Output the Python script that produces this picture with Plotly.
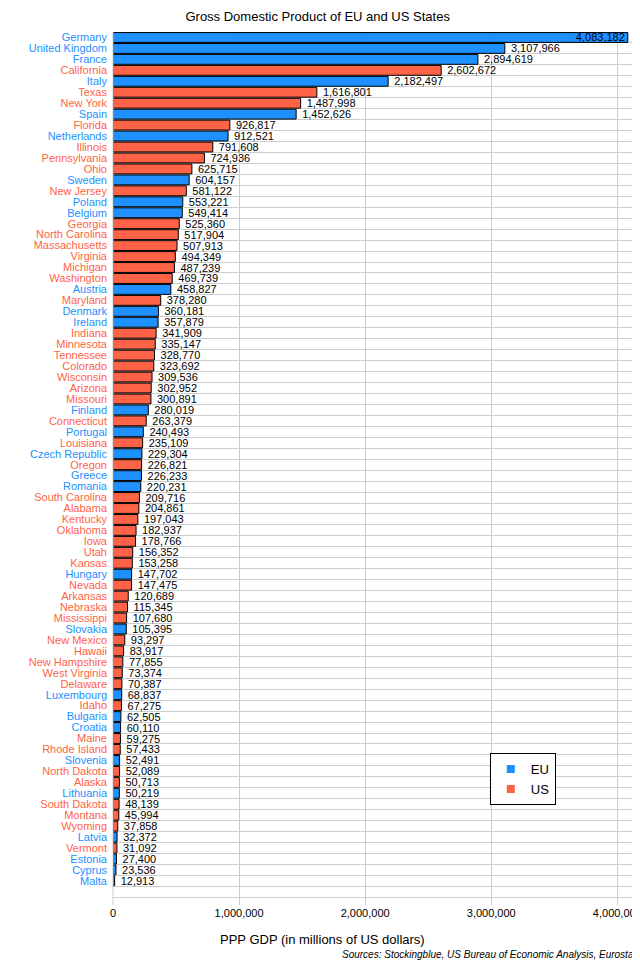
import plotly.graph_objects as go

# rows from top to bottom
names = [
    "Germany", "United Kingdom", "France", "California", "Italy", "Texas", "New York", "Spain",
    "Florida", "Netherlands", "Illinois", "Pennsylvania", "Ohio", "Sweden", "New Jersey", "Poland",
    "Belgium", "Georgia", "North Carolina", "Massachusetts", "Virginia", "Michigan", "Washington",
    "Austria", "Maryland", "Denmark", "Ireland", "Indiana", "Minnesota", "Tennessee", "Colorado",
    "Wisconsin", "Arizona", "Missouri", "Finland", "Connecticut", "Portugal", "Louisiana",
    "Czech Republic", "Oregon", "Greece", "Romania", "South Carolina", "Alabama", "Kentucky",
    "Oklahoma", "Iowa", "Utah", "Kansas", "Hungary", "Nevada", "Arkansas", "Nebraska",
    "Mississippi", "Slovakia", "New Mexico", "Hawaii", "New Hampshire", "West Virginia",
    "Delaware", "Luxembourg", "Idaho", "Bulgaria", "Croatia", "Maine", "Rhode Island",
    "Slovenia", "North Dakota", "Alaska", "Lithuania", "South Dakota", "Montana", "Wyoming",
    "Latvia", "Vermont", "Estonia", "Cyprus", "Malta",
]
gdp = [
    4083182, 3107966, 2894619, 2602672, 2182497, 1616801, 1487998, 1452626,
    926817, 912521, 791608, 724936, 625715, 604157, 581122, 553221,
    549414, 525360, 517904, 507913, 494349, 487239, 469739,
    458827, 378280, 360181, 357879, 341909, 335147, 328770, 323692,
    309536, 302952, 300891, 280019, 263379, 240493, 235109,
    229304, 226821, 226233, 220231, 209716, 204861, 197043,
    182937, 178766, 156352, 153258, 147702, 147475, 120689, 115345,
    107680, 105395, 93297, 83917, 77855, 73374,
    70387, 68837, 67275, 62505, 60110, 59275, 57433,
    52491, 52089, 50713, 50219, 48139, 45994, 37858,
    32372, 31092, 27400, 23536, 12913,
]
group = [
    "EU", "EU", "EU", "US", "EU", "US", "US", "EU",
    "US", "EU", "US", "US", "US", "EU", "US", "EU",
    "EU", "US", "US", "US", "US", "US", "US",
    "EU", "US", "EU", "EU", "US", "US", "US", "US",
    "US", "US", "US", "EU", "US", "EU", "US",
    "EU", "US", "EU", "EU", "US", "US", "US",
    "US", "US", "US", "US", "EU", "US", "US", "US",
    "US", "EU", "US", "US", "US", "US",
    "US", "EU", "US", "EU", "EU", "US", "US",
    "EU", "US", "US", "EU", "US", "US", "US",
    "EU", "US", "EU", "EU", "EU",
]
x_ticks = [0, 1000000, 2000000, 3000000, 4000000]

colors = {"EU": "#1E90FF", "US": "#FF6347"}
pos = list(range(len(names)))

fig = go.Figure()
for g in ["EU", "US"]:
    idx = [i for i in pos if group[i] == g]
    vals = [gdp[i] for i in idx]
    inside = [v > 4000000 for v in vals]
    fig.add_trace(go.Bar(
        y=idx,
        x=vals,
        orientation="h",
        name=g,
        showlegend=False,
        marker=dict(color=colors[g], line=dict(color="black", width=1)),
        text=[f"{v:,}" if ins else f"\u00a0{v:,}" for v, ins in zip(vals, inside)],
        textposition=["inside" if ins else "outside" for ins in inside],
        insidetextanchor="end",
        textfont=dict(color="black", size=11),
        constraintext="none",
        cliponaxis=False,
        width=0.9,
    ))
    # legend entry: plain coloured square
    fig.add_trace(go.Scatter(
        x=[None], y=[None], mode="markers", name=g,
        marker=dict(symbol="square", size=8, color=colors[g]),
    ))

ticktext = [f"<span style='color:{colors[g]}'>{n}</span>" for n, g in zip(names, group)]

# page has an 8px body margin, so the figure is a bit smaller than the window
fig.update_layout(
    width=632,
    height=952,
    barmode="overlay",
    plot_bgcolor="white",
    paper_bgcolor="white",
    font=dict(family="Arial, Liberation Sans, sans-serif", size=11, color="black"),
    title=dict(text="Gross Domestic Product of EU and US States", x=0.49, xanchor="center",
               y=0.9916, yanchor="middle", font=dict(size=13)),
    margin=dict(l=105, r=0, t=24, b=55),
    xaxis=dict(
        range=[0, 4180000],
        tickvals=x_ticks,
        ticktext=[f"{v:,}" for v in x_ticks],
        showgrid=True,
        gridcolor="#CCCCCC",
        zeroline=False,
        ticks="",
        tickfont=dict(size=11),
        ticklabeloverflow="allow",
        automargin=False,
    ),
    yaxis=dict(
        range=[len(names) + 1.2, -0.5],
        tickvals=pos,
        ticktext=ticktext,
        showgrid=False,
        zeroline=False,
        showline=False,
        ticks="",
        ticklabelstandoff=5,
        tickfont=dict(size=11),
        automargin=False,
        minor=dict(tick0=0.5, dtick=1, showgrid=True, gridcolor="#CCCCCC", ticks=""),
    ),
    legend=dict(
        x=0.715, y=0.174, xanchor="left", yanchor="top",
        bordercolor="black", borderwidth=1, bgcolor="white",
        font=dict(size=13),
    ),
    showlegend=True,
    annotations=[
        dict(text="PPP GDP (in millions of US dollars)", xref="paper", yref="paper",
             x=0.397, y=-0.040, xanchor="center", yanchor="middle", showarrow=False,
             font=dict(size=13)),
        dict(text="<i>Sources: Stockingblue, US Bureau of Economic Analysis, Eurostat</i>",
             xref="paper", yref="paper", x=0.998, y=-0.057, xanchor="right",
             yanchor="middle", showarrow=False, font=dict(size=10)),
    ],
)

# vertical line at the left edge of the plot
fig.add_shape(type="line", xref="paper", yref="paper", x0=0, x1=0, y0=0, y1=1,
              line=dict(color="#CCCCCC", width=1))

fig.write_html("out.html")
